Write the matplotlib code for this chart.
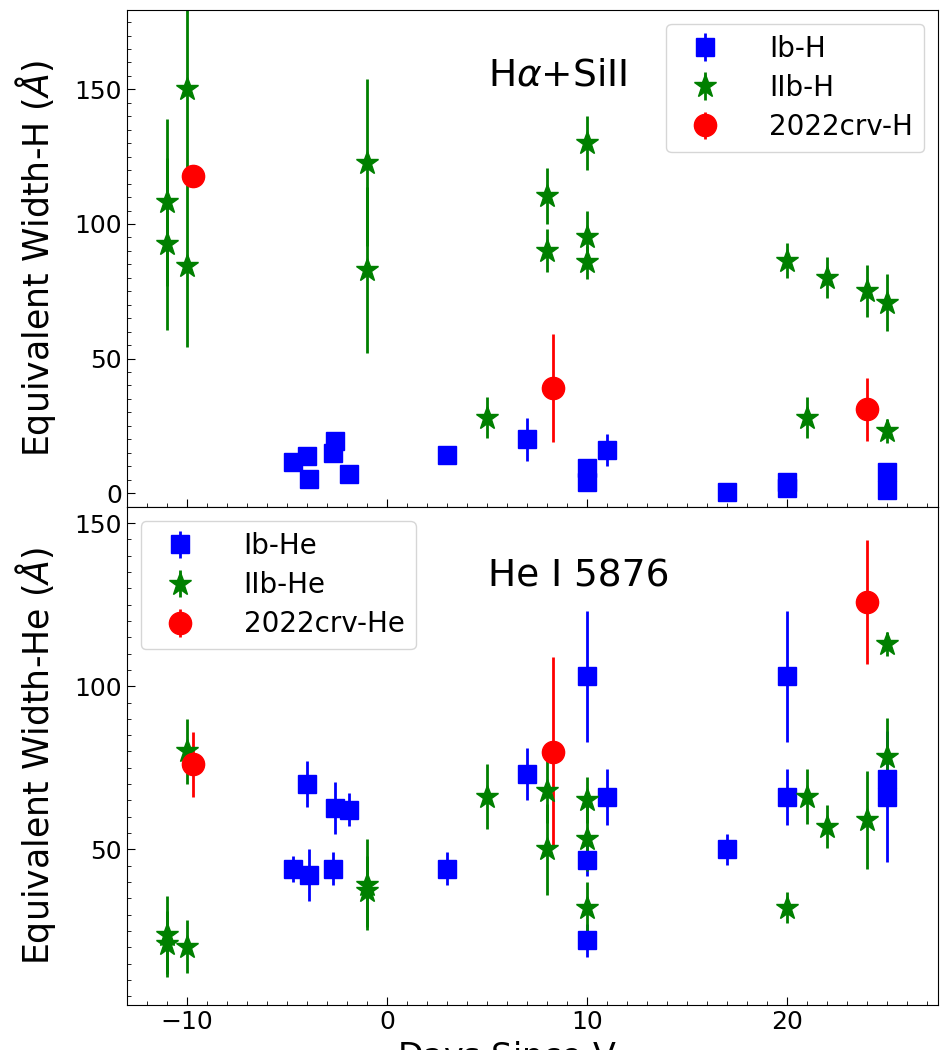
import numpy as np
import matplotlib
matplotlib.use("Agg")
import matplotlib.pyplot as plt
from matplotlib.ticker import MultipleLocator

# H-alpha + SiII equivalent widths
ib_h_x = [-4.7, -4.0, -3.9, -2.7, -2.6, -1.9, 3, 7, 10, 10, 11, 17, 20, 20, 25, 25]
ib_h_y = [11.4, 13.9, 5.2, 15.1, 19.4, 7.1, 14.1, 20.0, 9.2, 4.3, 16.1, 0.6, 4.3, 1.8, 8.0, 1.2]
ib_h_err = [2, 2, 2, 2, 3, 2, 2, 8, 2, 2, 6, 1, 2, 2, 2, 2]

iib_h_x = [-11, -11, -10, -10, -1, -1, 5, 8, 8, 10, 10, 10, 20, 21, 22, 24, 25, 25]
iib_h_y = [108, 92.5, 150, 84.4, 122.8, 82.9, 28.1, 110.4, 90, 130, 95, 85.7,
           86.3, 28.1, 80.1, 75.1, 70.8, 23.1]
iib_h_err = [31, 32, 35, 30, 31, 31, 7.7, 10.5, 8, 10, 10, 6, 6.5, 7.6, 7.7, 9.5, 10.5, 4.3]

crv_h_x = [-9.7, 8.3, 24]
crv_h_y = [118, 39, 31.2]
crv_h_err = [2, 20, 11.7]

# He I 5876 equivalent widths
ib_he_x = [-4.7, -4.0, -3.9, -2.7, -2.6, -1.9, 3, 7, 10, 10, 10, 11, 17, 20, 20, 25, 25]
ib_he_y = [44.1, 70.1, 42.2, 44.1, 62.6, 62.2, 44.1, 73.2, 103, 46.8, 22.1, 66, 50,
           103, 66, 71.6, 66.2]
ib_he_err = [4, 7, 8, 5, 8, 5, 5, 8, 20, 5, 5, 8.5, 4.7, 20, 8.5, 3, 20]

iib_he_x = [-11, -11, -10, -10, -1, -1, 5, 8, 8, 10, 10, 10, 20, 21, 22, 24, 25, 25]
iib_he_y = [23.7, 21, 80.1, 20.2, 39.2, 37.1, 66.2, 68, 50, 65.1, 53.3, 32.1,
            32.1, 66.2, 57, 59, 113, 78.2]
iib_he_err = [12, 10, 10, 8, 14, 11, 10, 10, 14, 7, 10, 8, 4.7, 8.5, 6.7, 15, 3.6, 12]

crv_he_x = [-9.7, 8.3, 24]
crv_he_y = [76.1, 79.9, 125.9]
crv_he_err = [10, 29, 19]

fig = plt.figure(figsize=(9.4, 10.5), dpi=100)
ax1 = fig.add_axes([0.135, 0.517, 0.863, 0.4735])
ax2 = fig.add_axes([0.135, 0.0429, 0.863, 0.4741], sharex=ax1)

def draw(ax, ib, iib, crv, tag):
    ax.errorbar(ib[0], ib[1], yerr=ib[2], fmt='s', color='b', ms=13,
                elinewidth=2, label='Ib-' + tag)
    ax.errorbar(iib[0], iib[1], yerr=iib[2], fmt='*', color='g', ms=17,
                elinewidth=2, label='IIb-' + tag)
    ax.errorbar(crv[0], crv[1], yerr=crv[2], fmt='o', color='r', ms=16,
                elinewidth=2, label='2022crv-' + tag)

draw(ax1, (ib_h_x, ib_h_y, ib_h_err), (iib_h_x, iib_h_y, iib_h_err),
     (crv_h_x, crv_h_y, crv_h_err), 'H')
draw(ax2, (ib_he_x, ib_he_y, ib_he_err), (iib_he_x, iib_he_y, iib_he_err),
     (crv_he_x, crv_he_y, crv_he_err), 'He')

ax1.set_xlim(-13, 27.55)
ax1.set_ylim(-5.2, 179.5)
ax2.set_ylim(2.3, 154.9)

for ax in (ax1, ax2):
    ax.xaxis.set_major_locator(MultipleLocator(10))
    ax.xaxis.set_minor_locator(MultipleLocator(1))
    ax.yaxis.set_major_locator(MultipleLocator(50))
    ax.yaxis.set_minor_locator(MultipleLocator(5))
    ax.tick_params(which='both', direction='in', labelsize=18)
    ax.tick_params(which='major', length=6)
    ax.tick_params(which='minor', length=3)

ax1.tick_params(labelbottom=False)

ax1.set_ylabel(r'Equivalent Width-H ($\AA$)', fontsize=25, labelpad=12)
ax2.set_ylabel(r'Equivalent Width-He ($\AA$)', fontsize=25, labelpad=12)
ax2.set_xlabel(r'Days Since V$_{\rm max}$', fontsize=24)

ax1.text(5.05, 155, r'H$\alpha$+SiII', fontsize=27, va='center')
ax2.text(5.05, 133.5, 'He I 5876', fontsize=27, va='center')

ax1.legend(loc='upper right', fontsize=20, labelspacing=0.4, handletextpad=1.3)
ax2.legend(loc='upper left', fontsize=20, labelspacing=0.4, handletextpad=1.3)

fig.savefig('out.png', dpi=100)
